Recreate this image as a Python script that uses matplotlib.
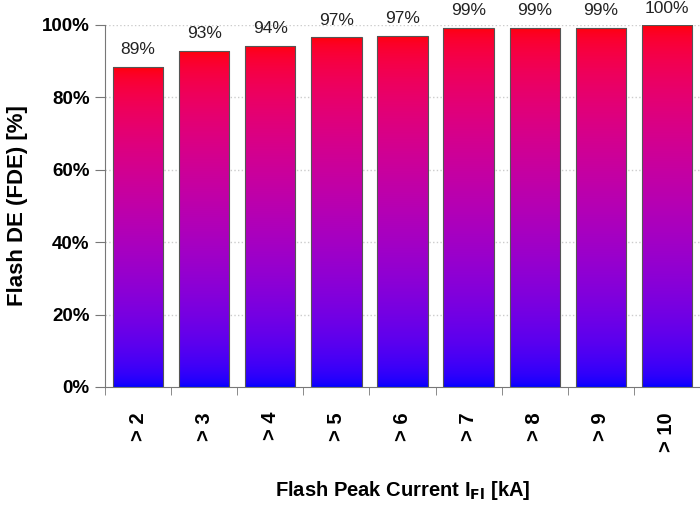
import matplotlib
matplotlib.use("Agg")
import matplotlib.pyplot as plt
import numpy as np
from matplotlib.colors import ListedColormap

categories = ["> 2", "> 3", "> 4", "> 5", "> 6", "> 7", "> 8", "> 9", "> 10"]
values = [88.4, 92.8, 94.3, 96.6, 97.0, 99.2, 99.2, 99.2, 99.9]
labels = ["89%", "93%", "94%", "97%", "97%", "99%", "99%", "99%", "100%"]
yticks = [0, 20, 40, 60, 80, 100]
yticklabels = ["0%", "20%", "40%", "60%", "80%", "100%"]

plt.rcParams['font.family'] = ['Liberation Sans', 'DejaVu Sans']

fig = plt.figure(figsize=(7.0, 5.05), dpi=100)
ax = fig.add_axes([0.15, 0.2337, 0.85, 0.7168])

t = np.linspace(0, 1, 256)
cols = np.stack([np.sqrt(t), np.zeros_like(t), np.sqrt(1 - t)], axis=1)
cmap = ListedColormap(cols)
grad = np.linspace(0, 1, 256).reshape(-1, 1)

x = np.arange(len(categories))
width = 0.76
bars = ax.bar(x, values, width=width, color='none', edgecolor='#555555', linewidth=0.8, zorder=3)
for b, v in zip(bars, values):
    x0 = b.get_x()
    im = ax.imshow(grad, cmap=cmap, aspect='auto', origin='lower',
                   extent=[x0, x0 + width, 0, v], zorder=2, interpolation='bilinear')
    im.set_clip_path(b)

for xi, v, lab in zip(x, values, labels):
    ax.annotate(lab, (xi, v), xytext=(0, 7), textcoords='offset points',
                ha='center', va='bottom', fontsize=12.5, color='#222222', clip_on=False)

ax.set_xlim(-0.5, len(categories) - 0.5)
ax.set_ylim(0, 100)
ax.set_yticks(yticks)
ax.set_yticklabels(yticklabels, fontsize=13.5, fontweight='bold')
ax.set_xticks(x)
ax.set_xticklabels(categories, rotation=90, fontsize=14.5, fontweight='bold')
ax.set_xticks(np.arange(-0.5, len(categories), 1), minor=True)
ax.tick_params(axis='x', which='major', length=0, pad=18)
ax.tick_params(axis='x', which='minor', length=6, color='#777777', direction='out')
ax.tick_params(axis='y', length=7, color='#777777', pad=4)

for yv in yticks[1:]:
    ax.axhline(yv, color='#cccccc', linestyle=':', linewidth=1.0, zorder=1)

ax.spines['top'].set_visible(False)
ax.spines['right'].set_visible(False)
ax.spines['left'].set_color('#777777')
ax.spines['bottom'].set_color('#777777')

ax.set_ylabel("Flash DE (FDE) [%]", fontsize=16, fontweight='bold', labelpad=10)
ax.set_xlabel(r"Flash Peak Current I$_{\mathbf{Fl}}$ [kA]", fontsize=14.5, fontweight='bold', labelpad=20)

fig.savefig("out.png", dpi=100)
